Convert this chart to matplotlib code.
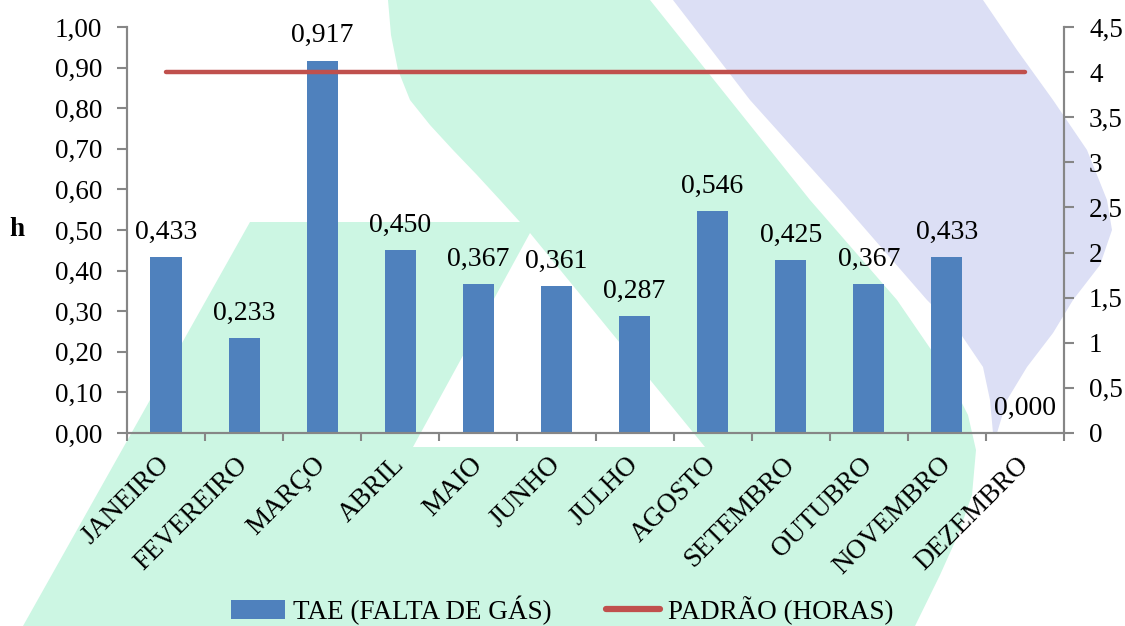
import matplotlib.pyplot as plt
from matplotlib.patches import Polygon
from matplotlib.ticker import FuncFormatter, FixedLocator

meses = ["JANEIRO", "FEVEREIRO", "MARÇO", "ABRIL", "MAIO", "JUNHO",
         "JULHO", "AGOSTO", "SETEMBRO", "OUTUBRO", "NOVEMBRO", "DEZEMBRO"]
tae = [0.433, 0.233, 0.917, 0.450, 0.367, 0.361,
       0.287, 0.546, 0.425, 0.367, 0.433, 0.000]
padrao = [4] * 12

plt.rcParams['font.family'] = ['Liberation Serif', 'DejaVu Serif']
plt.rcParams['font.size'] = 19.5

W, H = 1125, 626
fig = plt.figure(figsize=(W / 100, H / 100), dpi=100)

# background watermark (pixel coords, y down)
def px(points):
    return [(x / W, 1 - y / H) for x, y in points]

verde = [(388, 0), (650, 0), (730, 100), (810, 200), (897, 300), (945, 370),
         (968, 415), (976, 450), (972, 495), (958, 535), (940, 575), (915, 626),
         (23, 626), (250, 222), (520, 222), (500, 200), (477, 175), (453, 150),
         (430, 125), (410, 100), (398, 70), (391, 35)]
buraco = [(530, 233), (705, 447), (413, 447)]
azul = [(673, 0), (983, 0), (1017, 50), (1053, 100), (1087, 150), (1107, 200),
        (1112, 230), (1100, 265), (1073, 300), (1053, 333), (1027, 367),
        (1007, 400), (997, 433), (993, 433), (990, 400), (983, 367),
        (960, 333), (927, 300), (840, 200), (750, 100)]
fig.add_artist(Polygon(px(verde), closed=True, transform=fig.transFigure,
                       facecolor='#ccf6e3', edgecolor='none', zorder=-3))
fig.add_artist(Polygon(px(buraco), closed=True, transform=fig.transFigure,
                       facecolor='white', edgecolor='none', zorder=-2))
fig.add_artist(Polygon(px(azul), closed=True, transform=fig.transFigure,
                       facecolor='#dcdff5', edgecolor='none', zorder=-3))

ax = fig.add_axes([127 / W, 1 - 433 / H, (1064 - 127) / W, (433 - 27) / H])
ax.set_facecolor('none')
x = list(range(len(meses)))

bars = ax.bar(x, tae, width=0.4, color='#4f81bd', label='TAE (FALTA DE GÁS)')
for xi, v in zip(x, tae):
    ax.annotate(f'{v:.3f}'.replace('.', ','), (xi, v), xytext=(0, 9),
                textcoords='offset points', ha='center', va='bottom', fontsize=20)

ax.set_xlim(-0.5, 11.5)
ax.set_ylim(0, 1.0)
ax.set_yticks([i / 10 for i in range(11)])
ax.yaxis.set_major_formatter(FuncFormatter(lambda v, p: f'{v:.2f}'.replace('.', ',')))
ax.set_xticks(x)
ax.set_xticklabels(meses, rotation=45, ha='right', va='center', rotation_mode='anchor')
ax.tick_params(axis='x', length=0, pad=20)
ax.xaxis.set_minor_locator(FixedLocator([i - 0.5 for i in range(13)]))
ax.tick_params(axis='x', which='minor', length=6, width=1.5, color='#868686')
ax.tick_params(axis='y', length=7, width=1.5, color='#868686', pad=11)
ax.set_ylabel('h', rotation=0, fontweight='bold', labelpad=27, va='center')

ax2 = ax.twinx()
ax2.set_facecolor('none')
linha, = ax2.plot(x, padrao, color='#c0504d', lw=3.2, solid_capstyle='round',
                  label='PADRÃO (HORAS)')
ax2.set_ylim(0, 4.5)
ax2.set_yticks([i / 2 for i in range(10)])
ax2.yaxis.set_major_formatter(FuncFormatter(lambda v, p: f'{v:g}'.replace('.', ',')))
ax2.tick_params(axis='y', length=7, width=1.5, color='#868686', pad=11)

for a in (ax, ax2):
    a.spines['top'].set_visible(False)
    for s in ('left', 'right', 'bottom'):
        a.spines[s].set_color('#868686')
        a.spines[s].set_linewidth(1.5)

leg = fig.legend([bars, linha], ['TAE (FALTA DE GÁS)', 'PADRÃO (HORAS)'],
                 loc='center', bbox_to_anchor=(0.5, 1 - 610 / H), ncol=2, frameon=False,
                 handlelength=2, handleheight=0.7, columnspacing=2, handletextpad=0.3,
                 fontsize=19.5)
leg.get_lines()[0].set_linewidth(4.5)

fig.savefig('out.png', dpi=100)
